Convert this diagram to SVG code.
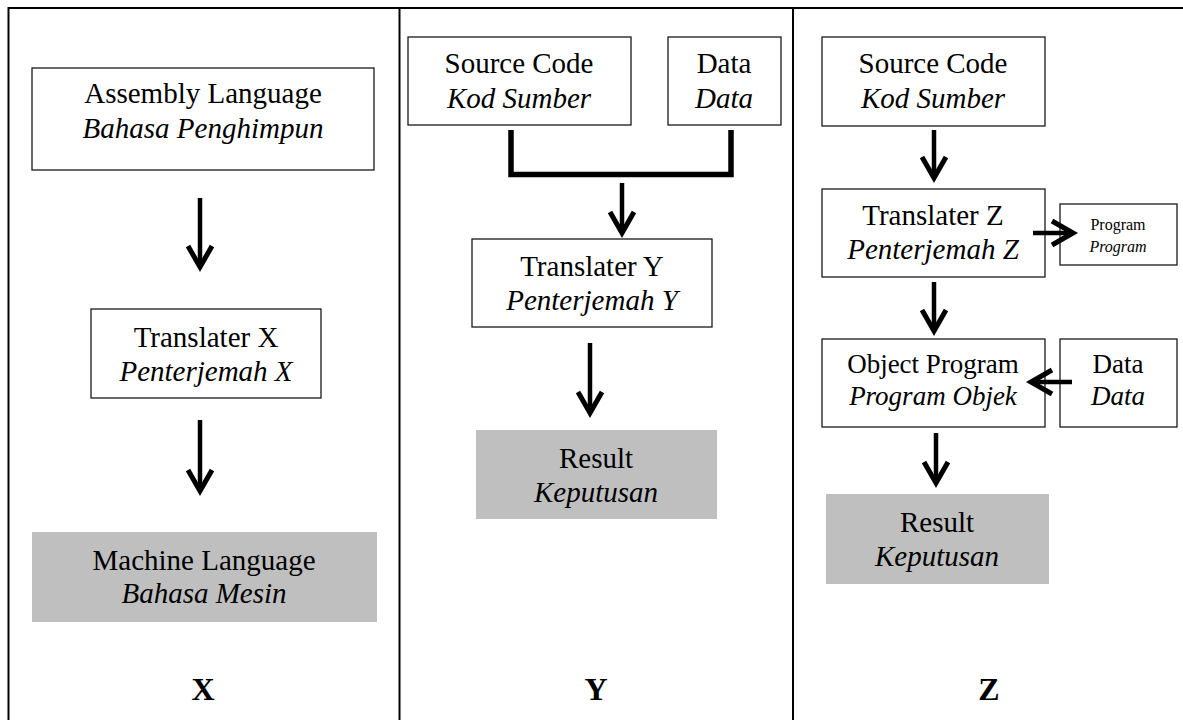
<svg xmlns="http://www.w3.org/2000/svg" width="1183" height="720" viewBox="0 0 1183 720">
<style>
.box{fill:#fff;stroke:#1a1a1a;stroke-width:1.3}
.res{fill:#bfbfbf;stroke:none}
.t{font-family:"Liberation Serif","Times New Roman",serif;font-size:29px;fill:#000;text-anchor:middle}
.i{font-style:italic}
.lbl{font-family:"Liberation Serif","Times New Roman",serif;font-size:32px;font-weight:bold;fill:#000;text-anchor:middle}
.frame{stroke:#000;stroke-width:2;fill:none}
.arr{stroke:#000;stroke-width:4.5;fill:none;marker-end:url(#ah)}
.brk{stroke:#000;stroke-width:5.5;fill:none;stroke-linejoin:miter}
</style>
<defs>
<marker id="ah" markerUnits="userSpaceOnUse" markerWidth="40" markerHeight="40" viewBox="-30 -20 40 40" refX="0" refY="0" orient="auto" overflow="visible">
<path d="M-21,-12 L0,0 L-21,12" fill="none" stroke="#000" stroke-width="5"/>
</marker>
</defs>
<rect width="1183" height="720" fill="#fff"/>
<g id="frame">
<path class="frame" d="M8,8 H1183 M8.5,7 V720 M399.5,7 V720 M793,7 V720"/>
</g>
<g id="x-assembly">
<rect class="box" x="32" y="68" width="342" height="102"/>
<text class="t" x="203" y="103">Assembly Language</text>
<text class="t i" x="203" y="138">Bahasa Penghimpun</text>
</g>
<g id="x-translater">
<rect class="box" x="91" y="309" width="230" height="89"/>
<text class="t" x="206" y="347">Translater X</text>
<text class="t i" x="206" y="381">Penterjemah X</text>
</g>
<g id="x-machine">
<rect class="res" x="32" y="532" width="345" height="90"/>
<text class="t" x="204" y="570">Machine Language</text>
<text class="t i" x="204" y="603">Bahasa Mesin</text>
</g>
<g id="y-source">
<rect class="box" x="408" y="37" width="223" height="88"/>
<text class="t" x="519" y="73">Source Code</text>
<text class="t i" x="519" y="108">Kod Sumber</text>
</g>
<g id="y-data">
<rect class="box" x="668" y="37" width="113" height="88"/>
<text class="t" x="724" y="73">Data</text>
<text class="t i" x="724" y="108">Data</text>
</g>
<g id="y-translater">
<rect class="box" x="472" y="239" width="240" height="88"/>
<text class="t" x="592" y="276">Translater Y</text>
<text class="t i" x="592" y="310">Penterjemah Y</text>
</g>
<g id="y-result">
<rect class="res" x="476" y="430" width="241" height="89"/>
<text class="t" x="596" y="468">Result</text>
<text class="t i" x="596" y="502">Keputusan</text>
</g>
<g id="z-source">
<rect class="box" x="822" y="37" width="223" height="89"/>
<text class="t" x="933" y="73">Source Code</text>
<text class="t i" x="933" y="108">Kod Sumber</text>
</g>
<g id="z-translater">
<rect class="box" x="822" y="189" width="223" height="88"/>
<text class="t" x="933" y="225">Translater Z</text>
<text class="t i" x="933" y="259">Penterjemah Z</text>
</g>
<g id="z-program">
<rect class="box" x="1060" y="204" width="117" height="61"/>
<text class="t" x="1118" y="230" style="font-size:16px">Program</text>
<text class="t i" x="1118" y="252" style="font-size:16px">Program</text>
</g>
<g id="z-object">
<rect class="box" x="822" y="339" width="223" height="88"/>
<text class="t" x="933" y="373" style="font-size:27px">Object Program</text>
<text class="t i" x="933" y="405" style="font-size:27px">Program Objek</text>
</g>
<g id="z-data">
<rect class="box" x="1060" y="339" width="117" height="88"/>
<text class="t" x="1118" y="373" style="font-size:27px">Data</text>
<text class="t i" x="1118" y="405" style="font-size:27px">Data</text>
</g>
<g id="z-result">
<rect class="res" x="826" y="494" width="223" height="90"/>
<text class="t" x="937" y="532">Result</text>
<text class="t i" x="937" y="566">Keputusan</text>
</g>
<g id="labels">
<text class="lbl" x="203" y="700">X</text>
<text class="lbl" x="596" y="700">Y</text>
<text class="lbl" x="989" y="700">Z</text>
</g>
<g id="connectors">
<path class="arr" d="M200,198 V267"/>
<path class="arr" d="M200,420 V491"/>
<path class="brk" d="M511,130 V174.5 H731 V130"/>
<path class="arr" d="M622,183 V233"/>
<path class="arr" d="M590,343 V413"/>
<path class="arr" d="M934,130 V178"/>
<path class="arr" d="M934,282 V331"/>
<path class="arr" d="M936,433 V483"/>
<path class="arr" d="M1033,233 H1073"/>
<path class="arr" d="M1072,382 H1031"/>
</g>
</svg>
